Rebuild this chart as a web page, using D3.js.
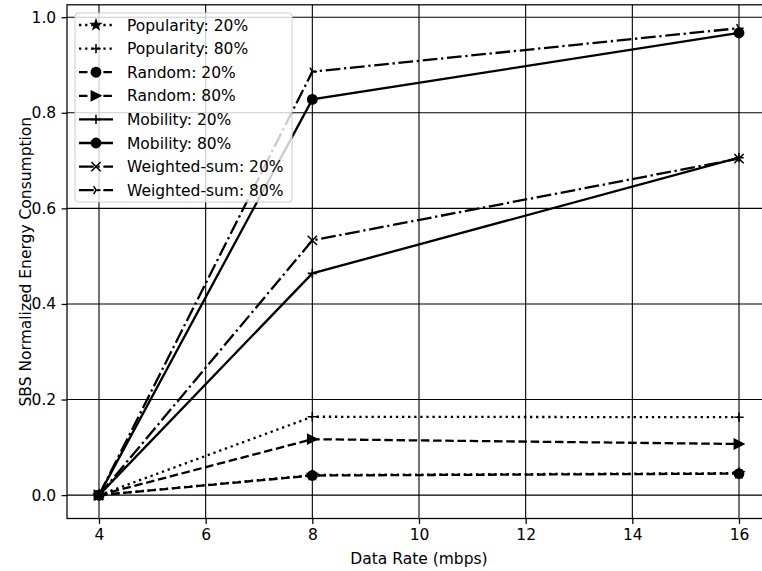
<!DOCTYPE html>
<html>
<head>
<meta charset="utf-8">
<script src="https://cdn.jsdelivr.net/npm/d3@7"></script>
<style>
body { margin: 0; background: #fff; }
text { font-family: "DejaVu Sans", sans-serif; fill: #000; }
</style>
</head>
<body>
<script>
// values
const rates = [4, 8, 16];
const popularity20 = [0, 0.042, 0.046];
const popularity80 = [0, 0.164, 0.163];
const random20 = [0, 0.041, 0.045];
const random80 = [0, 0.117, 0.107];
const mobility20 = [0, 0.464, 0.706];
const mobility80 = [0, 0.828, 0.967];
const weighted20 = [0, 0.533, 0.704];
const weighted80 = [0, 0.886, 0.977];
const xTicks = [4, 6, 8, 10, 12, 14, 16];
const yTicks = [0, 0.2, 0.4, 0.6, 0.8, 1.0];

const lw = 2.3;
const dashes = {
    dotted: [lw, 1.65 * lw],
    dashed: [3.7 * lw, 1.6 * lw],
    dashdot: [6.4 * lw, 1.6 * lw, lw, 1.6 * lw],
    solid: null
};

let series = [
    {label: "Popularity: 20%", values: popularity20, style: "dotted", marker: "star"},
    {label: "Popularity: 80%", values: popularity80, style: "dotted", marker: "plus"},
    {label: "Random: 20%", values: random20, style: "dashed", marker: "circle"},
    {label: "Random: 80%", values: random80, style: "dashed", marker: "triright"},
    {label: "Mobility: 20%", values: mobility20, style: "solid", marker: "plus"},
    {label: "Mobility: 80%", values: mobility80, style: "solid", marker: "circle"},
    {label: "Weighted-sum: 20%", values: weighted20, style: "dashdot", marker: "x"},
    {label: "Weighted-sum: 80%", values: weighted80, style: "dashdot", marker: "tri"}
];

let width = 762, height = 571;
let plot = {left: 67, right: 771, top: 4.8, bottom: 518.5};

let svg = d3.select("body")
    .append("svg")
        .attr("width", width)
        .attr("height", height);

let x = d3.scaleLinear().domain([3.4, 16.6]).range([plot.left, plot.right]);
let y = d3.scaleLinear().domain([-0.0489, 1.0259]).range([plot.bottom, plot.top]);

// grid
svg.append("g")
    .selectAll("line")
    .data(xTicks)
    .enter()
    .append("line")
        .attr("x1", d => x(d)).attr("x2", d => x(d))
        .attr("y1", plot.top).attr("y2", plot.bottom)
        .attr("stroke", "#000").attr("stroke-width", 1.1);
svg.append("g")
    .selectAll("line")
    .data(yTicks)
    .enter()
    .append("line")
        .attr("y1", d => y(d)).attr("y2", d => y(d))
        .attr("x1", plot.left).attr("x2", plot.right)
        .attr("stroke", "#000").attr("stroke-width", 1.1);

// axes
let xAxis = svg.append("g")
    .attr("transform", "translate(0," + plot.bottom + ")")
    .call(d3.axisBottom(x).tickValues(xTicks).tickFormat(d3.format("d")).tickSize(5.4).tickPadding(5.4));
let yAxis = svg.append("g")
    .attr("transform", "translate(" + plot.left + ",0)")
    .call(d3.axisLeft(y).tickValues(yTicks).tickFormat(d3.format(".1f")).tickSize(5.4).tickPadding(5.4));
[xAxis, yAxis].forEach(a => {
    a.select(".domain").remove();
    a.selectAll("line").attr("stroke", "#000").attr("stroke-width", 1.25);
    a.selectAll("text").style("font-size", "15.5px").style("font-family", "DejaVu Sans, sans-serif").attr("fill", "#000");
});

// spines
svg.append("rect")
    .attr("x", plot.left).attr("y", plot.top)
    .attr("width", plot.right - plot.left).attr("height", plot.bottom - plot.top)
    .attr("fill", "none").attr("stroke", "#000").attr("stroke-width", 1.25);

svg.append("text")
    .text("Data Rate (mbps)")
    .attr("x", (plot.left + plot.right) / 2)
    .attr("y", 564)
    .attr("text-anchor", "middle")
    .style("font-size", "15.5px");
svg.append("text")
    .text("SBS Normalized Energy Consumption")
    .attr("transform", "translate(31," + (plot.top + plot.bottom) / 2 + ") rotate(-90)")
    .attr("text-anchor", "middle")
    .style("font-size", "15.5px");

// marker shapes, r = half of marker size
let r = 4.65;
function starPath(R) {
    let pts = [];
    for (let k = 0; k < 10; k++) {
        let rad = k % 2 == 0 ? R : R * 0.382;
        let ang = -Math.PI / 2 + k * Math.PI / 5;
        pts.push([rad * Math.cos(ang), rad * Math.sin(ang)]);
    }
    return "M" + pts.map(p => p[0].toFixed(2) + "," + p[1].toFixed(2)).join("L") + "Z";
}
function markerPath(kind) {
    if (kind == "star") return starPath(r);
    if (kind == "circle") return d3.symbol(d3.symbolCircle, Math.PI * r * r)();
    if (kind == "plus") return "M" + (-r) + ",0H" + r + "M0," + (-r) + "V" + r;
    if (kind == "x") return "M" + (-r) + "," + (-r) + "L" + r + "," + r + "M" + (-r) + "," + r + "L" + r + "," + (-r);
    if (kind == "triright") return "M" + r + ",0L" + (-r) + "," + (-r) + "L" + (-r) + "," + r + "Z";
    // tri_right: three arms, one pointing right
    let a = r * 0.5, b = r * 0.866;
    return "M0,0L" + r + ",0M0,0L" + (-a) + "," + (-b) + "M0,0L" + (-a) + "," + b;
}
let filled = {star: true, circle: true, triright: true};

function drawMarker(g, kind, px, py) {
    g.append("path")
        .attr("d", markerPath(kind))
        .attr("transform", "translate(" + px + "," + py + ")")
        .attr("fill", filled[kind] ? "#000" : "none")
        .attr("stroke", "#000")
        .attr("stroke-width", 1.55);
}

let line = d3.line()
    .x((d, i) => x(rates[i]))
    .y(d => y(d));

series.forEach(s => {
    let g = svg.append("g");
    g.append("path")
        .attr("d", line(s.values))
        .attr("fill", "none")
        .attr("stroke", "#000")
        .attr("stroke-width", lw)
        .attr("stroke-dasharray", dashes[s.style] ? dashes[s.style].join(",") : null);
    s.values.forEach((v, i) => drawMarker(g, s.marker, x(rates[i]), y(v)));
});

// legend
let legend = svg.append("g");
legend.append("rect")
    .attr("x", 75).attr("y", 13)
    .attr("width", 217).attr("height", 189)
    .attr("rx", 3)
    .attr("fill", "#fff").attr("fill-opacity", 0.8)
    .attr("stroke", "#ccc").attr("stroke-width", 1);

series.forEach((s, i) => {
    let cy = 25 + i * 23.6;
    let g = legend.append("g");
    g.append("line")
        .attr("x1", 79).attr("x2", 113)
        .attr("y1", cy).attr("y2", cy)
        .attr("stroke", "#000")
        .attr("stroke-width", lw)
        .attr("stroke-dasharray", dashes[s.style] ? dashes[s.style].join(",") : null);
    drawMarker(g, s.marker, 96, cy);
    g.append("text")
        .text(s.label)
        .attr("x", 127)
        .attr("y", cy)
        .attr("dy", "0.36em")
        .style("font-size", "15.5px");
});
</script>
</body>
</html>
